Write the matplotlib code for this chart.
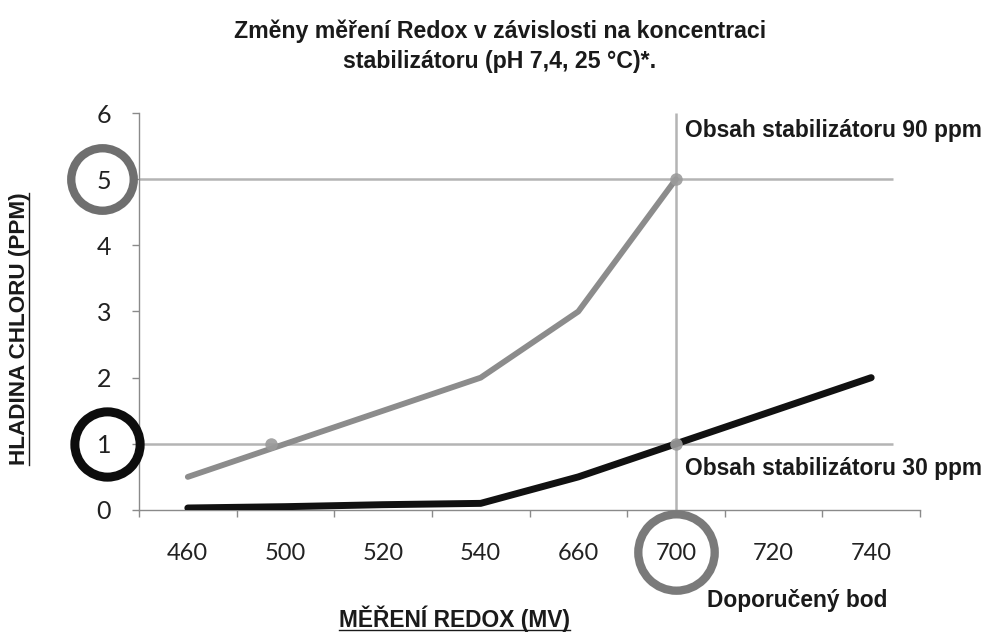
import numpy as np
import matplotlib
matplotlib.use("Agg")
import matplotlib.pyplot as plt
import matplotlib.transforms as mtransforms
from matplotlib.lines import Line2D

# Redox readings (mV) on a categorical axis, chlorine level in ppm
redox_labels = ["460", "500", "520", "540", "660", "700", "720", "740"]
chlor_90ppm = [0.5, 1.0, 1.5, 2.0, 3.0, 5.0]          # stabiliser 90 ppm
chlor_30ppm = [0.03, 0.05, 0.08, 0.1, 0.5, 1.0, 1.5, 2.0]  # stabiliser 30 ppm
y_ticks = [0, 1, 2, 3, 4, 5, 6]

recommended_idx = 5      # 700 mV
ref_levels = [5, 1]      # highlighted chlorine levels

title_text = "Změny měření Redox v závislosti na koncentraci\nstabilizátoru (pH 7,4, 25 °C)*."
xlabel_text = "MĚŘENÍ REDOX (MV)"
ylabel_text = "HLADINA CHLORU (PPM)"

GRAY_LINE = "#8c8c8c"
GRID = "#b4b4b4"
AXIS = "#8a8a8a"
TXT = "#1a1a1a"
FONT = "Liberation Sans"
TICKFONT = "Lato"

fig = plt.figure(figsize=(9.9, 6.41), dpi=100)
ax = fig.add_axes([0.1404, 0.2044, 0.7889, 0.6193])

x_all = np.arange(len(redox_labels))
ax.set_xlim(-0.5, len(redox_labels) - 0.5)
ax.set_ylim(0, 6)

# reference cross-hair lines
ax.plot([recommended_idx, recommended_idx], [0, 6], color=GRID, lw=1.8, zorder=1,
        solid_capstyle="butt")
for lvl in ref_levels:
    ax.plot([-0.5, 7.22], [lvl, lvl], color=GRID, lw=1.8, zorder=1,
            solid_capstyle="butt")

# the two stabiliser curves
ax.plot(x_all[:len(chlor_90ppm)], chlor_90ppm, color=GRAY_LINE, lw=4.2,
        solid_capstyle="round", solid_joinstyle="round", zorder=3)
ax.plot(x_all, chlor_30ppm, color="#111111", lw=5.0,
        solid_capstyle="round", solid_joinstyle="round", zorder=3)

# intersection dots
cross_x = np.interp(1.0, chlor_90ppm[:2], x_all[:2]) - 0.15
dots = [(cross_x, 1.0), (recommended_idx, chlor_90ppm[recommended_idx]),
        (recommended_idx, chlor_30ppm[recommended_idx])]
for dx, dy in dots:
    ax.plot(dx, dy, "o", color="#9b9b9b", ms=9, mec="none", alpha=0.9, zorder=4)

# axes styling
for side in ["top", "right"]:
    ax.spines[side].set_visible(False)
for side in ["left", "bottom"]:
    ax.spines[side].set_color(AXIS)
    ax.spines[side].set_linewidth(1.0)

ax.set_yticks(y_ticks)
ax.set_yticklabels([str(v) for v in y_ticks])
ax.set_xticks(np.arange(0, len(redox_labels) + 1) - 0.5, minor=False)
ax.set_xticklabels([])
ax.set_xticks(x_all, minor=True)
ax.set_xticklabels(redox_labels, minor=True)
ax.tick_params(axis="x", which="major", length=5, color=AXIS, width=1.0)
ax.tick_params(axis="x", which="minor", length=0, pad=24, labelsize=17,
               labelcolor="#222222")
ax.tick_params(axis="y", length=5, color=AXIS, width=1.0, pad=15, labelsize=18,
               labelcolor="#222222")
for lab in ax.get_xticklabels(minor=True) + ax.get_yticklabels():
    lab.set_fontfamily(TICKFONT)

# highlight rings around the key tick labels
yring = mtransforms.blended_transform_factory(ax.transAxes, ax.transData)
ax.plot(-0.047, 5, "o", ms=45, mfc="none", mec="#6f6f6f", mew=6, transform=yring,
        clip_on=False, zorder=5)
ax.plot(-0.041, 1, "o", ms=47, mfc="none", mec="#0d0d0d", mew=6.5, transform=yring,
        clip_on=False, zorder=5)
xring = mtransforms.blended_transform_factory(ax.transData, ax.transAxes)
ax.plot(recommended_idx, -0.106, "o", ms=55, mfc="none", mec="#7a7a7a", mew=6,
        transform=xring, clip_on=False, zorder=5)

# annotations
ann = dict(fontsize=16.4, fontweight="bold", family=FONT, color=TXT, clip_on=False)
ax.text(recommended_idx + 0.09, 5.74, "Obsah stabilizátoru 90 ppm", va="center",
        ha="left", **ann)
ax.text(recommended_idx + 0.09, 0.63, "Obsah stabilizátoru 30 ppm", va="center",
        ha="left", **ann)
ax.text(recommended_idx + 1.24, -0.227, "Doporučený bod", va="center",
        ha="center", transform=xring, **ann)

fig.text(0.505, 0.928, title_text, ha="center", va="center", fontsize=16.7,
         fontweight="bold", family=FONT, color=TXT, linespacing=1.4)

xl = fig.text(0.459, 0.022, xlabel_text, ha="center", va="baseline", fontsize=16.4,
              fontweight="bold", family=FONT, color=TXT)
yl = fig.text(0.02, 0.487, ylabel_text, ha="center", va="center", rotation=90,
              fontsize=16.2, fontweight="bold", family=FONT, color=TXT)

# underline the axis titles
fig.canvas.draw()
r = fig.canvas.get_renderer()
W, H = fig.bbox.width, fig.bbox.height
bb = xl.get_window_extent(r)
uy = (bb.y0 + 2) / H
fig.add_artist(Line2D([bb.x0 / W, bb.x1 / W], [uy, uy], color=TXT, lw=1.0,
                      transform=fig.transFigure))
bb = yl.get_window_extent(r)
ux = (bb.x1 - 1) / W
fig.add_artist(Line2D([ux, ux], [bb.y0 / H, bb.y1 / H], color=TXT, lw=1.0,
                      transform=fig.transFigure))

fig.savefig("out.png", dpi=100, facecolor="white")
